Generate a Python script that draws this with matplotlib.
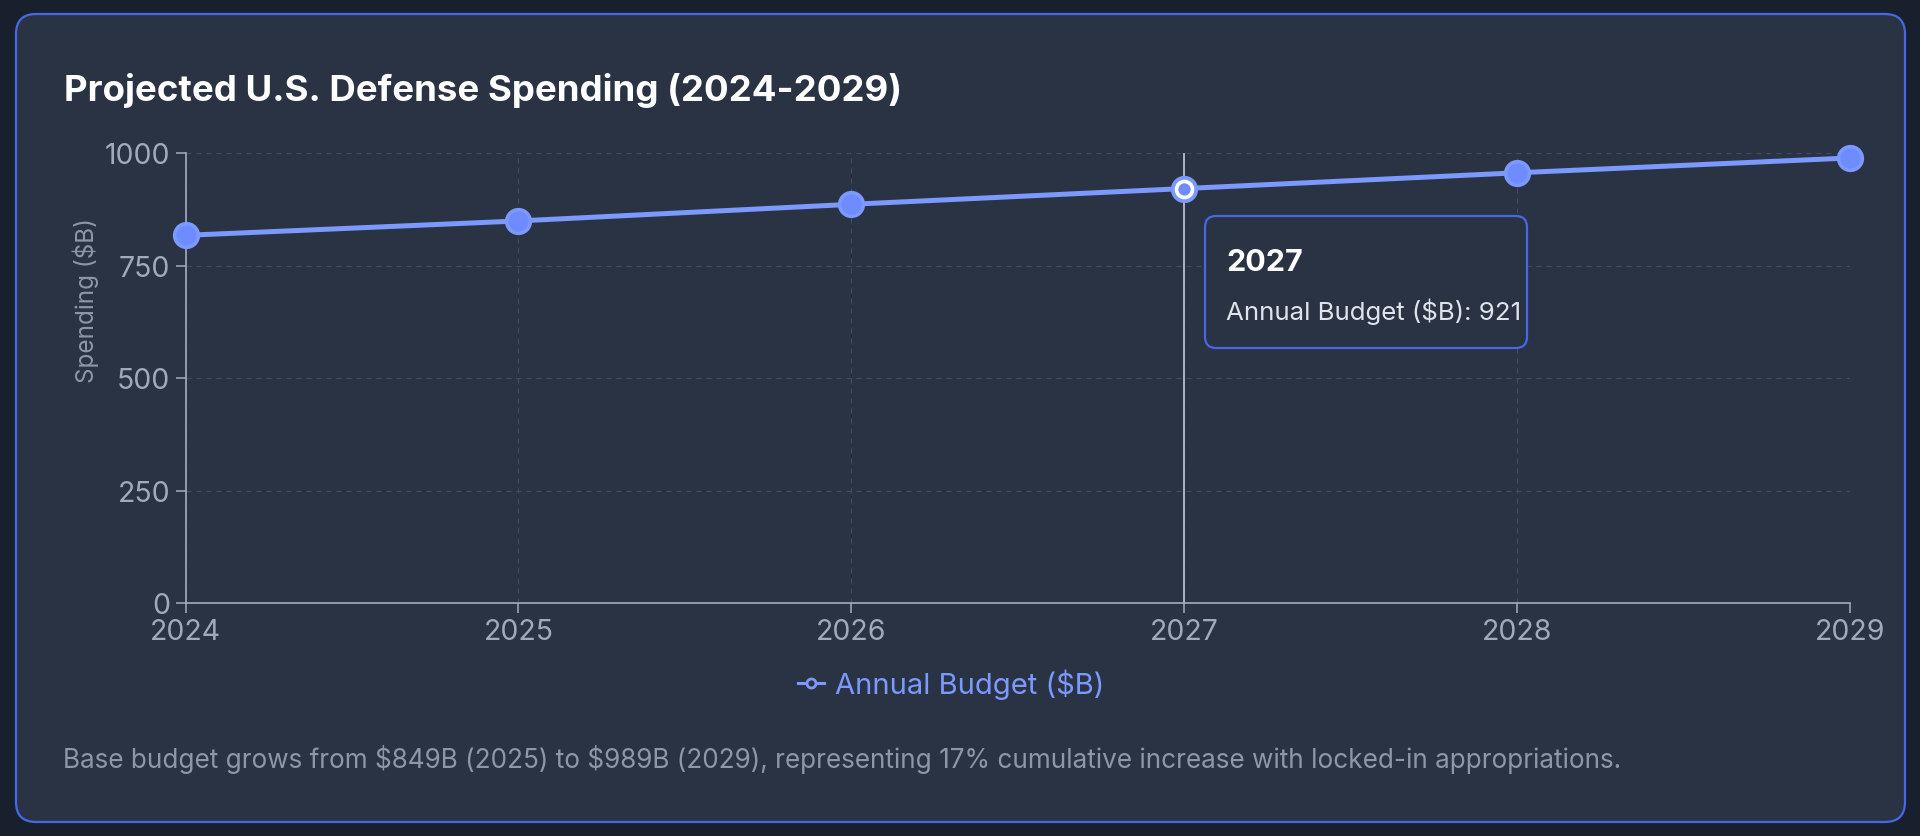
"""
Projected U.S. defense spending, 2024-2029, drawn as a dark dashboard card.
Writes out.png (1920x837).
"""

import matplotlib

matplotlib.use("Agg")
import matplotlib.pyplot as plt  # noqa: E402
from matplotlib.lines import Line2D  # noqa: E402
from matplotlib.patches import FancyBboxPatch  # noqa: E402

# --------------------------------------------------------------------------- #
# data
# --------------------------------------------------------------------------- #
years = [2024, 2025, 2026, 2027, 2028, 2029]
budget = [817, 849, 886, 921, 956, 989]
y_ticks = [0, 250, 500, 750, 1000]
series_name = "Annual Budget ($B)"
active_year = 2027

title = "Projected U.S. Defense Spending (2024-2029)"
y_label = "Spending ($B)"
caption = ("Base budget grows from $849B (2025) to $989B (2029), representing "
           "17% cumulative increase with locked-in appropriations.")

# --------------------------------------------------------------------------- #
# style
# --------------------------------------------------------------------------- #
W, H, DPI = 1920, 837, 100
PAGE_BG = "#18202e"
CARD_BG = "#2a3344"
CARD_EDGE = "#4767e6"
LINE = "#7b99ff"
DOT = "#6e8bff"
GRID = "#434d5f"
AXIS = "#a3adbd"
TICK_TXT = "#a0aab9"
MUTED = "#8d97a8"

plt.rcParams["font.family"] = ["Inter", "DejaVu Sans"]
plt.rcParams["text.parse_math"] = False  # dollar signs are literal

fig = plt.figure(figsize=(W / DPI, H / DPI), dpi=DPI, facecolor=PAGE_BG)

# pixel-space background layer for the card
bg = fig.add_axes([0, 0, 1, 1], zorder=0)
bg.set_xlim(0, W)
bg.set_ylim(H, 0)
bg.axis("off")
bg.add_patch(FancyBboxPatch((16, 15), 1889, 808,
                            boxstyle="round,pad=0,rounding_size=20",
                            facecolor=CARD_BG, edgecolor=CARD_EDGE, linewidth=1.6))

fig.text(64, H - 101, title, transform=None, fontsize=26.4, fontweight="bold",
         color="white", ha="left", va="baseline")
fig.text(63, H - 768, caption, transform=None, fontsize=18.8,
         color=MUTED, ha="left", va="baseline")

# --------------------------------------------------------------------------- #
# main chart
# --------------------------------------------------------------------------- #
ax = fig.add_axes([185.5 / W, 1 - 604 / H, (1850 - 185.5) / W, (604 - 154) / H],
                  zorder=1)
ax.set_facecolor("none")
ax.set_xlim(years[0], years[-1])
ax.set_ylim(0, 1000)
ax.set_xticks(years)
ax.set_yticks(y_ticks)

ax.grid(True, color=GRID, linestyle=(0, (4.5, 4.5)), linewidth=0.8)
ax.set_axisbelow(True)
for side in ("top", "right"):
    ax.spines[side].set_visible(False)
for side in ("left", "bottom"):
    ax.spines[side].set_color(AXIS)
    ax.spines[side].set_linewidth(1.2)
ax.tick_params(colors=AXIS, labelcolor=TICK_TXT, labelsize=20.5,
               length=7, width=1.1, pad=4)
ax.set_ylabel(y_label, fontsize=17.5, color=MUTED)
ax.yaxis.set_label_coords(-0.052, 0.675)

# hover crosshair
ax.axvline(active_year, color="#b7bfcb", linewidth=1.3, zorder=2)

ax.plot(years, budget, color=LINE, linewidth=3.6, zorder=3,
        marker="o", markersize=17, markerfacecolor=DOT,
        markeredgecolor=LINE, markeredgewidth=2.6, clip_on=False)

i = years.index(active_year)
ax.plot([years[i]], [budget[i]], "o", markersize=17, markerfacecolor=LINE,
        markeredgecolor=LINE, zorder=4, clip_on=False)
ax.plot([years[i]], [budget[i]], "o", markersize=11.5, markerfacecolor=DOT,
        markeredgecolor="white", markeredgewidth=2.6, zorder=5, clip_on=False)

handle = Line2D([0], [0], color=LINE, linewidth=2.2, marker="o",
                markersize=6.5, markerfacecolor=CARD_BG,
                markeredgecolor=LINE, markeredgewidth=2)
leg = ax.legend([handle], [series_name], loc="center",
                bbox_to_anchor=(951 / W, 1 - 685 / H),
                bbox_transform=fig.transFigure, frameon=False,
                fontsize=21, handlelength=0.9, handletextpad=0.35)
for t in leg.get_texts():
    t.set_color(LINE)

# --------------------------------------------------------------------------- #
# tooltip overlay
# --------------------------------------------------------------------------- #
ov = fig.add_axes([0, 0, 1, 1], zorder=6)
ov.set_xlim(0, W)
ov.set_ylim(H, 0)
ov.axis("off")
ov.set_facecolor("none")
ov.add_patch(FancyBboxPatch((1205, 217), 322, 132,
                            boxstyle="round,pad=0,rounding_size=11",
                            facecolor=CARD_BG, edgecolor=CARD_EDGE, linewidth=1.6))
ov.text(1226, 271, str(active_year), fontsize=22, fontweight="bold",
        color="white", ha="left", va="baseline")
ov.text(1226, 320, f"{series_name}: {budget[i]}", fontsize=18.6,
        color="#dfe4ec", ha="left", va="baseline")

fig.savefig("out.png", dpi=DPI, facecolor=PAGE_BG)
print("wrote out.png")
